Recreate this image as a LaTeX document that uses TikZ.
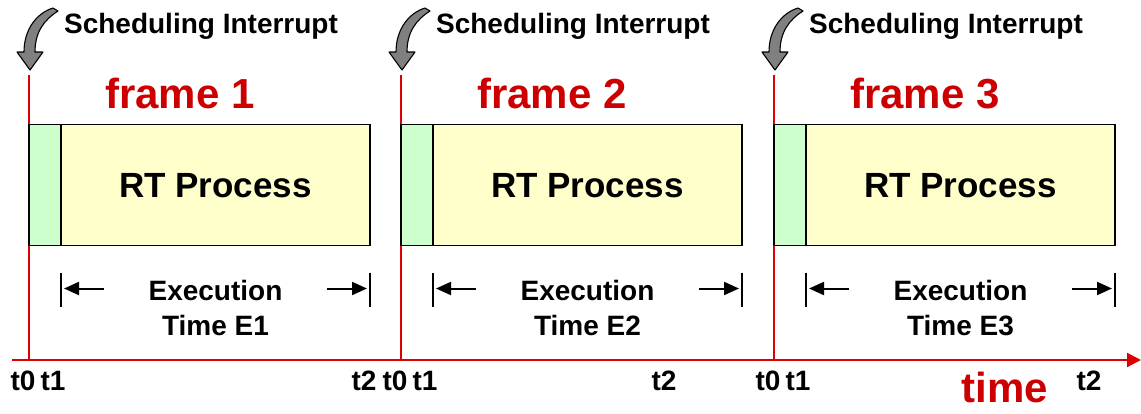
\documentclass[tikz,border=0pt]{standalone}
\usepackage{fontspec}
\setmainfont{Liberation Sans}
\usetikzlibrary{arrows.meta}
\definecolor{lgreen}{RGB}{204,255,204}
\definecolor{lyellow}{RGB}{255,255,204}
\definecolor{dred}{RGB}{204,0,0}
\definecolor{lred}{RGB}{220,0,0}
\definecolor{agray}{RGB}{128,128,128}
\tikzset{
  boxA/.style={draw=black, line width=1.4pt, fill=lgreen, minimum height=121pt, inner sep=0pt, outer sep=0pt},
  boxB/.style={draw=black, line width=1.4pt, fill=lyellow, minimum height=121pt, inner sep=0pt, outer sep=0pt},
  lbl/.style={font=\bfseries\fontsize{28}{32}\selectfont, anchor=base, inner sep=0pt},
  big/.style={font=\bfseries\fontsize{35}{40}\selectfont, anchor=base, inner sep=0pt},
  redbig/.style={font=\bfseries\fontsize{42}{46}\selectfont, anchor=base, inner sep=0pt, text=dred},
  redline/.style={draw=lred, line width=2pt},
  tickline/.style={draw=black, line width=1.5pt},
  dimarrow/.style={draw=black, line width=2pt, -{Triangle[length=15pt,width=13pt]}},
  curvearrow/.style={fill=agray, draw=black, line width=1.1pt, line join=round},
}
\begin{document}
\begin{tikzpicture}[x=1pt,y=-1pt]
\useasboundingbox (0,0) rectangle (1141,413);
% time axis
\coordinate (axs) at (12,360);
\coordinate (axe) at (1141,360);
\draw[redline, -{Triangle[length=14pt,width=14pt]}] (axs) -- (axe);
\foreach \i/\x/\tt in {1/29/364, 2/401/664, 3/774/1089} {
  % red frame line
  \coordinate (top\i) at (\x,75);
  \coordinate (bot\i) at (\x,360);
  \draw[redline] (top\i) -- (bot\i);
  % boxes
  \node[boxA, minimum width=32pt, anchor=north west] (g\i) at (\x,124.5) {};
  \node[boxB, minimum width=309pt, anchor=north west] (y\i) at ([xshift=32pt]g\i.north west) {};
  \node[big] (rt\i) at ([yshift=-12.5pt]y\i.center) {RT Process};
  % frame label
  \node[redbig] (fr\i) at ([xshift=151pt]\x,108) {frame \i};
  % scheduling interrupt
  \node[lbl] (si\i) at ([xshift=172pt]\x,33) {Scheduling Interrupt};
  \draw[curvearrow, shift={(\x,0)}] (24,8) -- (29,11) .. controls (15,20) and (6,32) .. (6,52) -- (14,52) -- (1,70) -- (-12,52) -- (-5,52) .. controls (-5,29) and (8,13) .. (24,8) -- cycle;
  % execution time dimension
  \coordinate (lt\i) at ([yshift=-27pt]y\i.south west);
  \coordinate (lb\i) at ([yshift=-61pt]y\i.south west);
  \coordinate (rt\i t) at ([yshift=-27pt]y\i.south east);
  \coordinate (rb\i) at ([yshift=-61pt]y\i.south east);
  \draw[tickline] (lt\i) -- (lb\i);
  \draw[tickline] (rt\i t) -- (rb\i);
  \coordinate (la\i) at ([xshift=43pt,yshift=-43pt]y\i.south west);
  \coordinate (lh\i) at ([xshift=3pt,yshift=-43pt]y\i.south west);
  \coordinate (ra\i) at ([xshift=-43pt,yshift=-43pt]y\i.south east);
  \coordinate (rh\i) at ([xshift=-3pt,yshift=-43pt]y\i.south east);
  \draw[dimarrow] (la\i) -- (lh\i);
  \draw[dimarrow] (ra\i) -- (rh\i);
  \node[lbl] (ex\i) at (y\i.center |- 0,300) {Execution};
  \node[lbl] (te\i) at (y\i.center |- 0,335) {Time E\i};
  % time labels
  \node[lbl] (t0\i) at ([xshift=-6pt]\x,390) {t0};
  \node[lbl] (t1\i) at ([xshift=24pt]\x,390) {t1};
  \node[lbl] (t2\i) at (\tt,390) {t2};
}
\node[redbig] (time) at (1005,402) {time};
\end{tikzpicture}
\end{document}
